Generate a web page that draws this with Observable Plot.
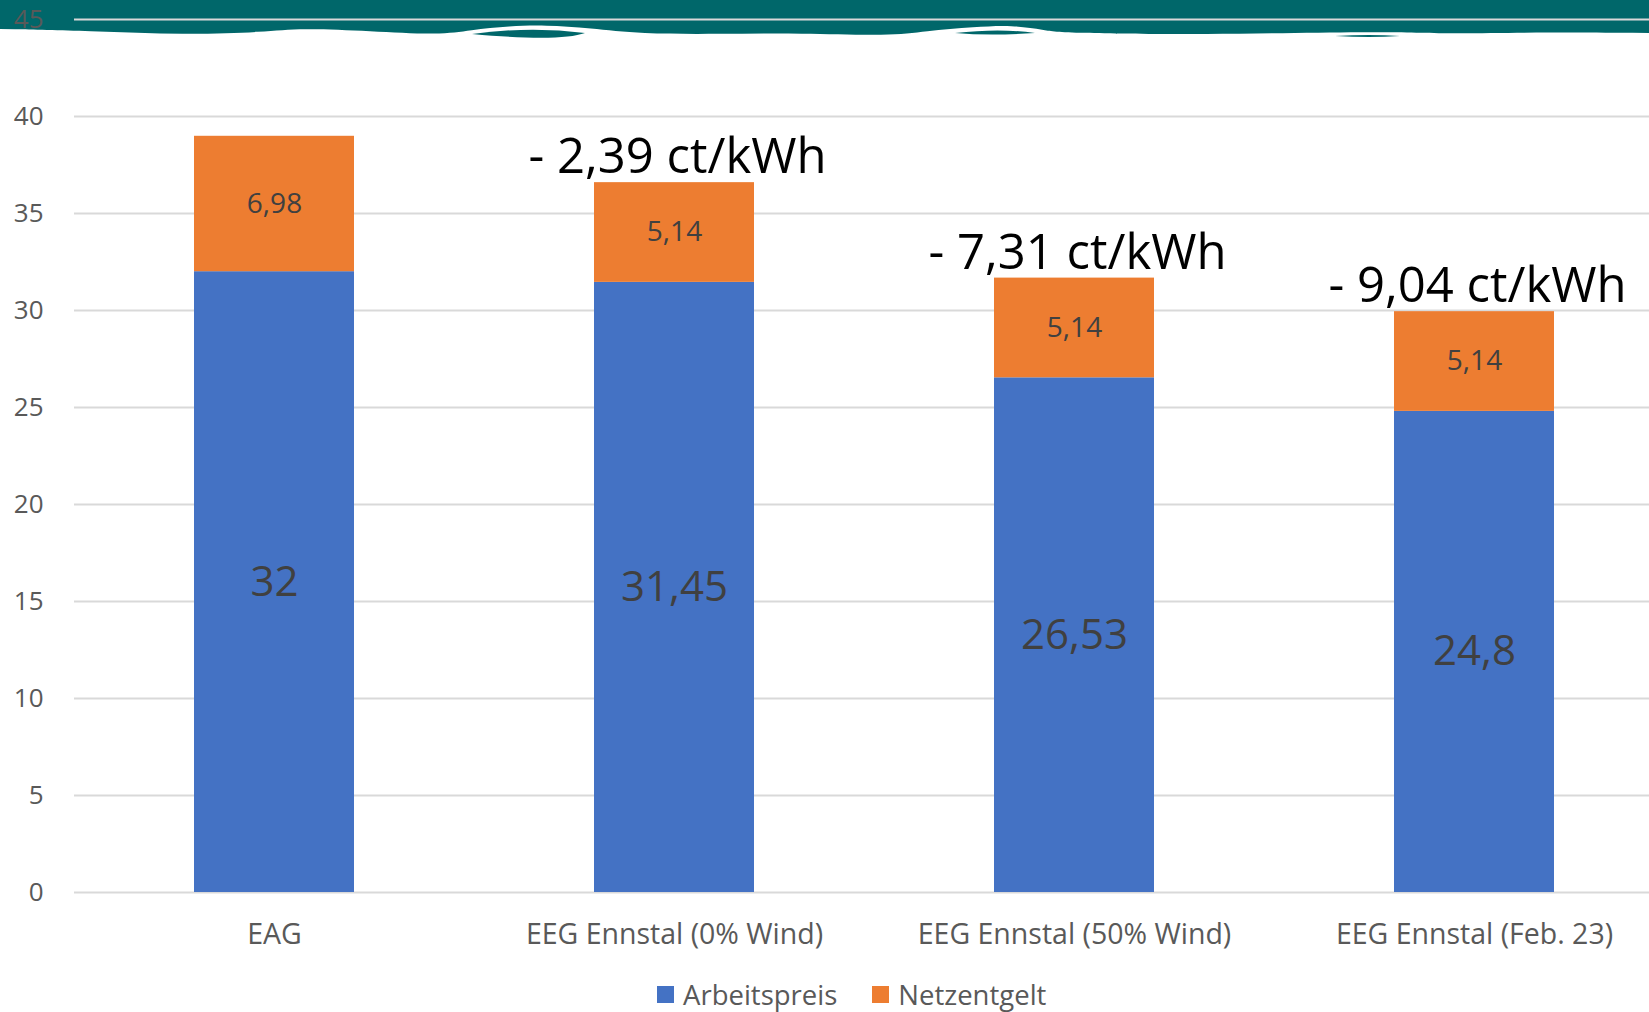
<!DOCTYPE html>
<html>
<head>
<meta charset="utf-8">
<script src="https://cdn.jsdelivr.net/npm/d3@7"></script>
<script src="https://cdn.jsdelivr.net/npm/@observablehq/plot@0.6"></script>
<style>
  html, body { margin: 0; padding: 0; background: #fff; overflow: hidden; width: 1649px; height: 1012px; }
  #wrap { position: relative; width: 1649px; height: 1012px; overflow: hidden; font-family: "Open Sans", sans-serif; }
  #deco { position: absolute; left: 0; top: 0; z-index: 0; }
  #chart { position: absolute; left: 0; top: 0; z-index: 1; }
  #legend { position: absolute; left: 657px; top: 976px; display: flex; align-items: center; font-size: 27.5px; color: #595959; z-index: 2; }
  .sw { width: 17px; height: 17px; display: inline-block; margin-right: 9px; }
  .item { display: flex; align-items: center; margin-right: 35px; }
</style>
</head>
<body>
<div id="wrap">
  <svg id="deco" width="1649" height="60"></svg>
  <div id="chart"></div>
  <div id="legend"></div>
</div>
<script>
// ---- data ----
const categories = ["EAG", "EEG Ennstal (0% Wind)", "EEG Ennstal (50% Wind)", "EEG Ennstal (Feb. 23)"];
const arbeitspreis = [32, 31.45, 26.53, 24.8];
const netzentgelt = [6.98, 5.14, 5.14, 5.14];
const seriesNames = ["Arbeitspreis", "Netzentgelt"];
const seriesColors = ["#4472C4", "#ED7D31"];
const yTicks = [0, 5, 10, 15, 20, 25, 30, 35, 40, 45];

const fmt = v => String(+v.toFixed(2)).replace(".", ",");

const long = [];
categories.forEach((c, i) => {
  long.push({cat: c, series: seriesNames[0], value: arbeitspreis[i], mid: arbeitspreis[i] / 2});
  long.push({cat: c, series: seriesNames[1], value: netzentgelt[i], mid: arbeitspreis[i] + netzentgelt[i] / 2});
});
const totals = categories.map((c, i) => ({cat: c, total: arbeitspreis[i] + netzentgelt[i]}));
const base = totals[0].total;
const savings = totals.slice(1).map(d => ({...d, label: "- " + (base - d.total).toFixed(2).replace(".", ",") + " ct/kWh"}));

// ---- decorative teal band (not data) ----
(function () {
  const svg = d3.select("#deco");
  const teal = "#00676A";
  const edge = [[0,29],[90,31],[185,35],[265,32],[300,28],[370,31],[440,35],[470,30],[510,26],[545,25],[590,28],[640,34],[720,34],[800,33],[890,36],[925,31],[975,27],[1012,25],[1045,30],[1060,33],[1200,35],[1380,31],[1440,34],[1550,32],[1649,33]];
  const line = d3.line().curve(d3.curveBasis);
  const path = "M0,0 L1649,0 L" + line(edge.slice().reverse()).slice(1) + " Z";
  svg.append("path").attr("d", path).attr("fill", teal);
  svg.append("path").attr("d", "M472,34 Q530,26 585,33 Q560,42 472,34 Z").attr("fill", teal);
  svg.append("path").attr("d", "M955,33 Q1000,28 1035,33 Q990,36 955,33 Z").attr("fill", teal);
  svg.append("path").attr("d", "M1335,36 Q1370,34 1400,36 Q1370,38 1335,36 Z").attr("fill", teal);
})();

// ---- chart ----
const chart = Plot.plot({
  width: 1680,
  height: 960,
  marginLeft: 74,
  marginRight: 6,
  marginTop: 19,
  marginBottom: 68,
  style: {background: "transparent", maxWidth: "none", fontFamily: "'Open Sans', sans-serif", overflow: "visible"},
  x: {domain: categories, paddingInner: 0.6, paddingOuter: 0.3, label: null},
  y: {domain: [0, 45], label: null},
  color: {domain: seriesNames, range: seriesColors},
  marks: [
    Plot.gridY(yTicks, {stroke: "#D9D9D9", strokeOpacity: 1, strokeWidth: 2}),
    Plot.axisY(yTicks, {tickSize: 0, tickPadding: 31, fontSize: 26, fill: "#595959", label: null}),
    Plot.axisX({tickSize: 0, tickPadding: 31, fontSize: 28.5, fill: "#595959", label: null}),
    Plot.barY(long, Plot.stackY({x: "cat", y: "value", fill: "series", z: "series", order: seriesNames})),
    Plot.text(long.filter(d => d.series === seriesNames[0]), {x: "cat", y: "mid", text: d => fmt(d.value), fontSize: 42, fill: "#404040"}),
    Plot.text(long.filter(d => d.series === seriesNames[1]), {x: "cat", y: "mid", text: d => fmt(d.value), fontSize: 28, fill: "#404040"}),
    Plot.text(savings, {x: "cat", y: "total", text: "label", dy: -25, dx: 3, fontSize: 49, fill: "#000"})
  ]
});
document.getElementById("chart").appendChild(chart);

// ---- legend ----
const lg = document.getElementById("legend");
seriesNames.forEach((s, i) => {
  const it = document.createElement("div");
  it.className = "item";
  it.innerHTML = `<span class="sw" style="background:${seriesColors[i]}"></span><span>${s}</span>`;
  lg.appendChild(it);
});
</script>
</body>
</html>
